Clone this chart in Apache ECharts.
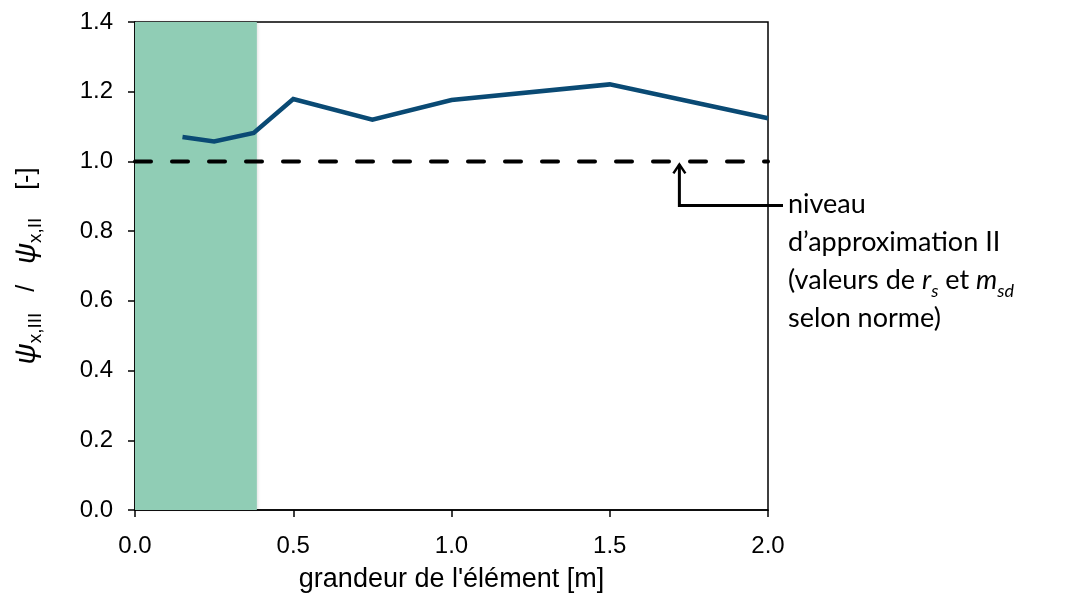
<!DOCTYPE html>
<html><head><meta charset="utf-8">
<script src="https://cdn.jsdelivr.net/npm/echarts@6/dist/echarts.min.js"></script>
<style>html,body{margin:0;padding:0;background:#fff}#c{width:1066px;height:595px}</style>
</head><body><div id="c"></div>
<script>
const xValues = [0.15, 0.25, 0.375, 0.5, 0.75, 1.0, 1.5, 2.0];
const ratioValues = [1.07, 1.057, 1.082, 1.179, 1.12, 1.176, 1.221, 1.124];
const referenceLevel = 1.0;
const bandRange = [0, 0.385];
const arrowX = 1.72;
const annotationLines = ['niveau', "d’approximation II", '(valeurs de r_s et m_sd', 'selon norme)'];

const chart = echarts.init(document.getElementById('c'), null, {renderer: 'canvas'});
const axisFont = 'Liberation Sans, Arial, sans-serif';
const option = {
  animation: false,
  backgroundColor: '#fff',
  grid: {left: 135, right: 298, top: 22, bottom: 85, containLabel: false, outerBoundsMode: 'none', show: true, borderColor: '#000', borderWidth: 1.5, backgroundColor: 'transparent'},
  xAxis: {
    type: 'value', min: 0, max: 2, interval: 0.5,
    axisLine: {show: true, lineStyle: {color: '#000', width: 1.5}},
    axisTick: {show: true, inside: false, length: 7, lineStyle: {color: '#000', width: 1.5}},
    axisLabel: {color: '#000', fontSize: 24, fontFamily: axisFont, margin: 24, formatter: v => v.toFixed(1)},
    splitLine: {show: false},
    name: "grandeur de l'élément [m]", nameLocation: 'middle', nameGap: 56,
    nameTextStyle: {color: '#000', fontSize: 27, fontFamily: axisFont}
  },
  yAxis: {
    type: 'value', min: 0, max: 1.4, interval: 0.2,
    axisLine: {show: true, lineStyle: {color: '#000', width: 1.5}},
    axisTick: {show: true, inside: false, length: 7, lineStyle: {color: '#000', width: 1.5}},
    axisLabel: {color: '#000', fontSize: 24, fontFamily: axisFont, margin: 22, formatter: v => v.toFixed(1)},
    splitLine: {show: false},
    name: '{psi|ψ}{sub|x,III}{n|   /   }{psi|ψ}{sub|x,II}{n|    [-]}',
    nameLocation: 'middle', nameRotate: 90, nameGap: 90,
    nameTextStyle: {
      color: '#000', fontFamily: axisFont, fontSize: 24,
      rich: {
        psi: {fontSize: 29, fontStyle: 'italic', fontFamily: axisFont, lineHeight: 36, verticalAlign: 'middle', color: '#000'},
        sub: {fontSize: 19, fontFamily: axisFont, lineHeight: 36, verticalAlign: 'bottom', color: '#000'},
        n: {fontSize: 25, fontFamily: axisFont, lineHeight: 36, verticalAlign: 'middle', color: '#000'}
      }
    }
  },
  series: [
    {
      type: 'line', data: [], silent: true,
      markArea: {silent: true, itemStyle: {color: '#90cdb5', opacity: 1, shadowColor: 'rgba(0,0,0,0.12)', shadowBlur: 3, shadowOffsetX: 1}, data: [[{xAxis: bandRange[0], yAxis: 0}, {xAxis: bandRange[1], yAxis: 1.4}]]},
      z: 1
    },
    {
      type: 'line', data: [[0, referenceLevel], [2, referenceLevel]], symbol: 'none', silent: true,
      lineStyle: {color: '#000', width: 4, type: [16, 21], cap: 'round'}, z: 3
    },
    {
      type: 'line', data: xValues.map((x, i) => [x, ratioValues[i]]), symbol: 'none', silent: true,
      lineStyle: {color: '#0a4a74', width: 4.5, join: 'miter'}, z: 4
    }
  ]
};
chart.setOption(option);

const tip = chart.convertToPixel({gridIndex: 0}, [arrowX, referenceLevel]);
const tx = tip[0], ty = tip[1] + 3;
const elbowY = ty + 41;
const lineEndX = 783;
const annFont = 'Lato, "Open Sans", sans-serif';
const annSize = 27;
const rich = {
  t: {fontSize: annSize, fontFamily: annFont, color: '#000'},
  i: {fontSize: annSize, fontFamily: annFont, fontStyle: 'italic', color: '#000'},
  s: {fontSize: 18, fontFamily: annFont, fontStyle: 'italic', color: '#000', verticalAlign: 'bottom', lineHeight: 40}
};
function richLine(s) {
  if (s.indexOf('r_s') >= 0) return '{t|(valeurs de }{i|r}{s|s}{t| et }{i|m}{s|sd}';
  return '{t|' + s + '}';
}
const graphics = [
  {type: 'polyline', shape: {points: [[lineEndX, elbowY], [tx, elbowY], [tx, ty]]}, style: {stroke: '#000', lineWidth: 3, fill: null}, z: 10},
  {type: 'polyline', shape: {points: [[tx - 6, ty + 9], [tx, ty], [tx + 6, ty + 9]]}, style: {stroke: '#000', lineWidth: 2.5, fill: null}, z: 10}
];
annotationLines.forEach((s, k) => {
  graphics.push({
    type: 'text', left: lineEndX + 5, top: elbowY - 21 + k * 38, z: 10,
    style: {text: richLine(s), rich: rich, fontSize: annSize, fontFamily: annFont, fill: '#000', lineHeight: 40}
  });
});
chart.setOption({graphic: graphics});
</script></body></html>
